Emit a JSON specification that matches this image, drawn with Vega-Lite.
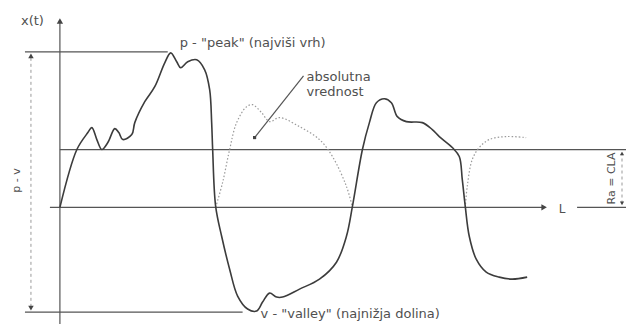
{
  "$schema": "https://vega.github.io/schema/vega-lite/v6.json",
  "width": 627,
  "height": 325,
  "autosize": {"type": "fit", "contains": "padding"},
  "padding": 0,
  "background": "white",
  "config": {"view": {"stroke": null}},
  "datasets": {
    "profile": [
      {"i":0,"t":60,"x":0},{"i":1,"t":77,"x":58},{"i":2,"t":88,"x":75},{"i":3,"t":92,"x":80},{"i":4,"t":97,"x":68},
      {"i":5,"t":102,"x":58},{"i":6,"t":108,"x":65},{"i":7,"t":115,"x":79},{"i":8,"t":119,"x":75},{"i":9,"t":123,"x":68},
      {"i":10,"t":132,"x":73},{"i":11,"t":135,"x":85},{"i":12,"t":145,"x":106},{"i":13,"t":155,"x":121},{"i":14,"t":165,"x":145},
      {"i":15,"t":171,"x":155},{"i":16,"t":177,"x":146},{"i":17,"t":181,"x":140},{"i":18,"t":188,"x":146},{"i":19,"t":197,"x":148},
      {"i":20,"t":205,"x":138},{"i":21,"t":210,"x":118},{"i":22,"t":212,"x":85},{"i":23,"t":213,"x":58},{"i":24,"t":216,"x":1},
      {"i":25,"t":222,"x":-29},{"i":26,"t":230,"x":-62},{"i":27,"t":238,"x":-89},{"i":28,"t":248,"x":-102},{"i":29,"t":257,"x":-104},
      {"i":30,"t":263,"x":-95},{"i":31,"t":270,"x":-86},{"i":32,"t":277,"x":-90},{"i":33,"t":283,"x":-90},{"i":34,"t":300,"x":-82},
      {"i":35,"t":320,"x":-72},{"i":36,"t":337,"x":-55},{"i":37,"t":347,"x":-29},{"i":38,"t":353,"x":1},{"i":39,"t":363,"x":58},
      {"i":40,"t":370,"x":85},{"i":41,"t":377,"x":105},{"i":42,"t":385,"x":109},{"i":43,"t":392,"x":105},{"i":44,"t":398,"x":91},
      {"i":45,"t":407,"x":86},{"i":46,"t":423,"x":85},{"i":47,"t":433,"x":78},{"i":48,"t":440,"x":71},{"i":49,"t":453,"x":60},
      {"i":50,"t":460,"x":51},{"i":51,"t":463,"x":28},{"i":52,"t":466,"x":1},{"i":53,"t":470,"x":-29},{"i":54,"t":477,"x":-52},
      {"i":55,"t":487,"x":-65},{"i":56,"t":500,"x":-70},{"i":57,"t":513,"x":-72},{"i":58,"t":528,"x":-70}
    ],
    "absval": [
      {"seg":"a","i":0,"t":216,"x":0},{"seg":"a","i":1,"t":223,"x":25},{"seg":"a","i":2,"t":230,"x":58},{"seg":"a","i":3,"t":237,"x":85},
      {"seg":"a","i":4,"t":247,"x":101},{"seg":"a","i":5,"t":253,"x":103},{"seg":"a","i":6,"t":262,"x":95},{"seg":"a","i":7,"t":270,"x":86},
      {"seg":"a","i":8,"t":280,"x":90},{"seg":"a","i":9,"t":300,"x":81},{"seg":"a","i":10,"t":320,"x":68},{"seg":"a","i":11,"t":333,"x":51},
      {"seg":"a","i":12,"t":347,"x":21},{"seg":"a","i":13,"t":353,"x":0},
      {"seg":"b","i":0,"t":466,"x":0},{"seg":"b","i":1,"t":468,"x":21},{"seg":"b","i":2,"t":473,"x":48},{"seg":"b","i":3,"t":480,"x":60},
      {"seg":"b","i":4,"t":490,"x":68},{"seg":"b","i":5,"t":507,"x":71},{"seg":"b","i":6,"t":527,"x":70}
    ],
    "rules": [
      {"name":"t-axis","t1":50,"t2":543,"x1":0,"x2":0},
      {"name":"t-axis-end","t1":578,"t2":627,"x1":0,"x2":0},
      {"name":"x-axis","t1":60,"t2":60,"x1":-117,"x2":186},
      {"name":"Ra","t1":60,"t2":627,"x1":58,"x2":58},
      {"name":"peak","t1":25,"t2":168,"x1":156,"x2":156},
      {"name":"valley","t1":25,"t2":243,"x1":-105,"x2":-105},
      {"name":"leader","t1":304,"t2":255,"x1":132,"x2":70}
    ],
    "dims": [
      {"name":"p-v","t1":31,"t2":31,"x1":150,"x2":-100},
      {"name":"Ra","t1":623,"t2":623,"x1":55,"x2":3}
    ],
    "arrows": [
      {"t":60,"x":187,"shape":"triangle-up","s":40},
      {"t":545,"x":0,"shape":"triangle-right","s":40},
      {"t":31,"x":152,"shape":"triangle-up","s":30},
      {"t":31,"x":-101,"shape":"triangle-down","s":30},
      {"t":623,"x":54,"shape":"triangle-up","s":18},
      {"t":623,"x":4,"shape":"triangle-down","s":18},
      {"t":255,"x":70,"shape":"square","s":10}
    ],
    "labels": [
      {"t":21,"x":187,"label":"x(t)","kind":"left"},
      {"t":180,"x":165,"label":"p - \"peak\" (najviši vrh)","kind":"left"},
      {"t":307,"x":131,"label":"absolutna","kind":"left"},
      {"t":307,"x":116,"label":"vrednost","kind":"left"},
      {"t":261,"x":-107,"label":"v - \"valley\" (najnižja dolina)","kind":"left"},
      {"t":563,"x":-2,"label":"L","kind":"center"},
      {"t":17,"x":27,"label":"p - v","kind":"rotated"},
      {"t":613,"x":29,"label":"Ra = CLA","kind":"rotated"}
    ]
  },
  "layer": [
    {
      "data": {"name": "rules"},
      "mark": {"type": "rule", "color": "#555555", "strokeWidth": 1.2},
      "encoding": {
        "x": {"field": "t1", "type": "quantitative", "scale": {"domain": [0, 627], "nice": false, "zero": false}, "axis": null},
        "x2": {"field": "t2"},
        "y": {"field": "x1", "type": "quantitative", "scale": {"domain": [-117, 208], "nice": false, "zero": false}, "axis": null},
        "y2": {"field": "x2"}
      }
    },
    {
      "data": {"name": "dims"},
      "mark": {"type": "rule", "color": "#999999", "strokeWidth": 1, "strokeDash": [3, 3]},
      "encoding": {
        "x": {"field": "t1", "type": "quantitative", "scale": {"domain": [0, 627], "nice": false, "zero": false}, "axis": null},
        "x2": {"field": "t2"},
        "y": {"field": "x1", "type": "quantitative", "scale": {"domain": [-117, 208], "nice": false, "zero": false}, "axis": null},
        "y2": {"field": "x2"}
      }
    },
    {
      "data": {"name": "absval"},
      "mark": {"type": "line", "color": "#9a9a9a", "strokeWidth": 1.2, "strokeDash": [1.5, 2], "interpolate": "catmull-rom"},
      "encoding": {
        "x": {"field": "t", "type": "quantitative", "scale": {"domain": [0, 627], "nice": false, "zero": false}, "axis": null},
        "y": {"field": "x", "type": "quantitative", "scale": {"domain": [-117, 208], "nice": false, "zero": false}, "axis": null},
        "detail": {"field": "seg"},
        "order": {"field": "i"}
      }
    },
    {
      "data": {"name": "profile"},
      "mark": {"type": "line", "color": "#3c3c3c", "strokeWidth": 1.6, "interpolate": "catmull-rom"},
      "encoding": {
        "x": {"field": "t", "type": "quantitative", "scale": {"domain": [0, 627], "nice": false, "zero": false}, "axis": null},
        "y": {"field": "x", "type": "quantitative", "scale": {"domain": [-117, 208], "nice": false, "zero": false}, "axis": null},
        "order": {"field": "i"}
      }
    },
    {
      "data": {"name": "arrows"},
      "mark": {"type": "point", "filled": true, "color": "#444444", "opacity": 1},
      "encoding": {
        "x": {"field": "t", "type": "quantitative", "scale": {"domain": [0, 627], "nice": false, "zero": false}, "axis": null},
        "y": {"field": "x", "type": "quantitative", "scale": {"domain": [-117, 208], "nice": false, "zero": false}, "axis": null},
        "shape": {"field": "shape", "type": "nominal", "scale": null},
        "size": {"field": "s", "type": "quantitative", "scale": null}
      }
    },
    {
      "data": {"name": "labels"},
      "transform": [{"filter": "datum.kind == 'left'"}],
      "mark": {"type": "text", "font": "DejaVu Sans", "fontSize": 13, "color": "#505050", "align": "left", "baseline": "middle"},
      "encoding": {
        "x": {"field": "t", "type": "quantitative", "scale": {"domain": [0, 627], "nice": false, "zero": false}, "axis": null},
        "y": {"field": "x", "type": "quantitative", "scale": {"domain": [-117, 208], "nice": false, "zero": false}, "axis": null},
        "text": {"field": "label"}
      }
    },
    {
      "data": {"name": "labels"},
      "transform": [{"filter": "datum.kind == 'center'"}],
      "mark": {"type": "text", "font": "DejaVu Sans", "fontSize": 12, "color": "#505050", "align": "center", "baseline": "middle"},
      "encoding": {
        "x": {"field": "t", "type": "quantitative", "scale": {"domain": [0, 627], "nice": false, "zero": false}, "axis": null},
        "y": {"field": "x", "type": "quantitative", "scale": {"domain": [-117, 208], "nice": false, "zero": false}, "axis": null},
        "text": {"field": "label"}
      }
    },
    {
      "data": {"name": "labels"},
      "transform": [{"filter": "datum.kind == 'rotated'"}],
      "mark": {"type": "text", "font": "DejaVu Sans", "fontSize": 11, "color": "#505050", "align": "center", "baseline": "middle", "angle": 270},
      "encoding": {
        "x": {"field": "t", "type": "quantitative", "scale": {"domain": [0, 627], "nice": false, "zero": false}, "axis": null},
        "y": {"field": "x", "type": "quantitative", "scale": {"domain": [-117, 208], "nice": false, "zero": false}, "axis": null},
        "text": {"field": "label"}
      }
    }
  ]
}
